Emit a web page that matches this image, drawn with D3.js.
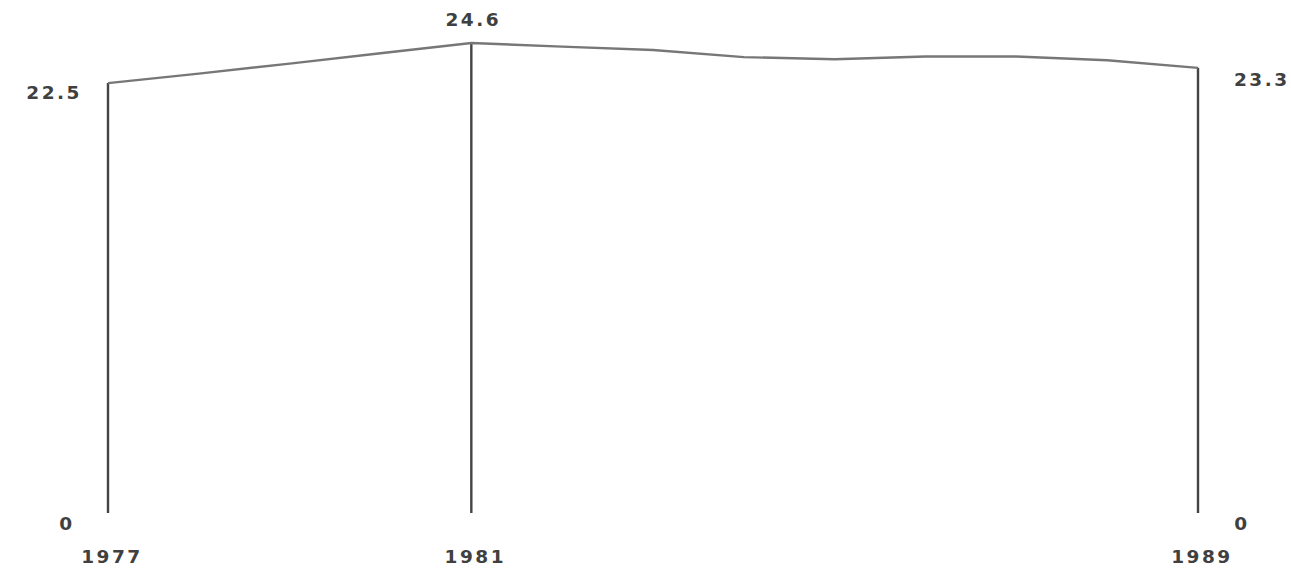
<!DOCTYPE html>
<html>
<head>
<meta charset="utf-8">
<script src="https://cdn.jsdelivr.net/npm/d3@7"></script>
<style>
  body { margin: 0; background: #fff; }
  text { font-family: "DejaVu Sans", Verdana, sans-serif; font-weight: bold; font-size: 18.5px; fill: #404040; letter-spacing: 2.5px; }
</style>
</head>
<body>
<div id="chart"></div>
<script>
// yearly values
var years = [1977, 1978, 1979, 1980, 1981, 1982, 1983, 1984, 1985, 1986, 1987, 1988, 1989];
var values = [22.5, 23.0, 23.52, 24.06, 24.6, 24.41, 24.23, 23.86, 23.75, 23.89, 23.89, 23.7, 23.3];
// years that get a drop line and labels
var markedYears = [1977, 1981, 1989];

var width = 1291, height = 571;

var svg = d3.select("#chart").append("svg")
    .attr("width", width)
    .attr("height", height);

var x = d3.scaleLinear()
    .domain([1977, 1989])
    .range([108, 1198]);

var y = d3.scaleLinear()
    .domain([0, 24.6])
    .range([513, 43]);

var data = years.map(function (d, i) { return {year: d, value: values[i]}; });
var marked = data.filter(function (d) { return markedYears.indexOf(d.year) >= 0; });

// drop lines down to zero
svg.selectAll(".drop")
    .data(marked)
    .enter().append("line")
    .attr("class", "drop")
    .attr("x1", function (d) { return x(d.year); })
    .attr("x2", function (d) { return x(d.year); })
    .attr("y1", function (d) { return y(d.value); })
    .attr("y2", y(0))
    .attr("stroke", "#444")
    .attr("stroke-width", 2.4);

var line = d3.line()
    .x(function (d) { return x(d.year); })
    .y(function (d) { return y(d.value); });

svg.append("path")
    .datum(data)
    .attr("d", line)
    .attr("fill", "none")
    .attr("stroke", "#777")
    .attr("stroke-width", 2.4);

// value labels: first to the left, middle above, last to the right
var first = marked[0], mid = marked[1], last = marked[2];

svg.append("text")
    .attr("x", x(first.year) - 26)
    .attr("y", y(first.value) + 16)
    .attr("text-anchor", "end")
    .text(first.value.toFixed(1));

svg.append("text")
    .attr("x", x(mid.year) + 2)
    .attr("y", y(mid.value) - 17)
    .attr("text-anchor", "middle")
    .text(mid.value.toFixed(1));

svg.append("text")
    .attr("x", x(last.year) + 36)
    .attr("y", y(last.value) + 18)
    .attr("text-anchor", "start")
    .text(last.value.toFixed(1));

// zero labels at the ends
svg.append("text")
    .attr("x", x(first.year) - 41)
    .attr("y", y(0) + 17)
    .attr("text-anchor", "middle")
    .text("0");

svg.append("text")
    .attr("x", x(last.year) + 44)
    .attr("y", y(0) + 17)
    .attr("text-anchor", "middle")
    .text("0");

// year labels under the drop lines
svg.selectAll(".year")
    .data(marked)
    .enter().append("text")
    .attr("class", "year")
    .attr("x", function (d) { return x(d.year) + 4; })
    .attr("y", y(0) + 50)
    .attr("text-anchor", "middle")
    .text(function (d) { return d.year; });
</script>
</body>
</html>
